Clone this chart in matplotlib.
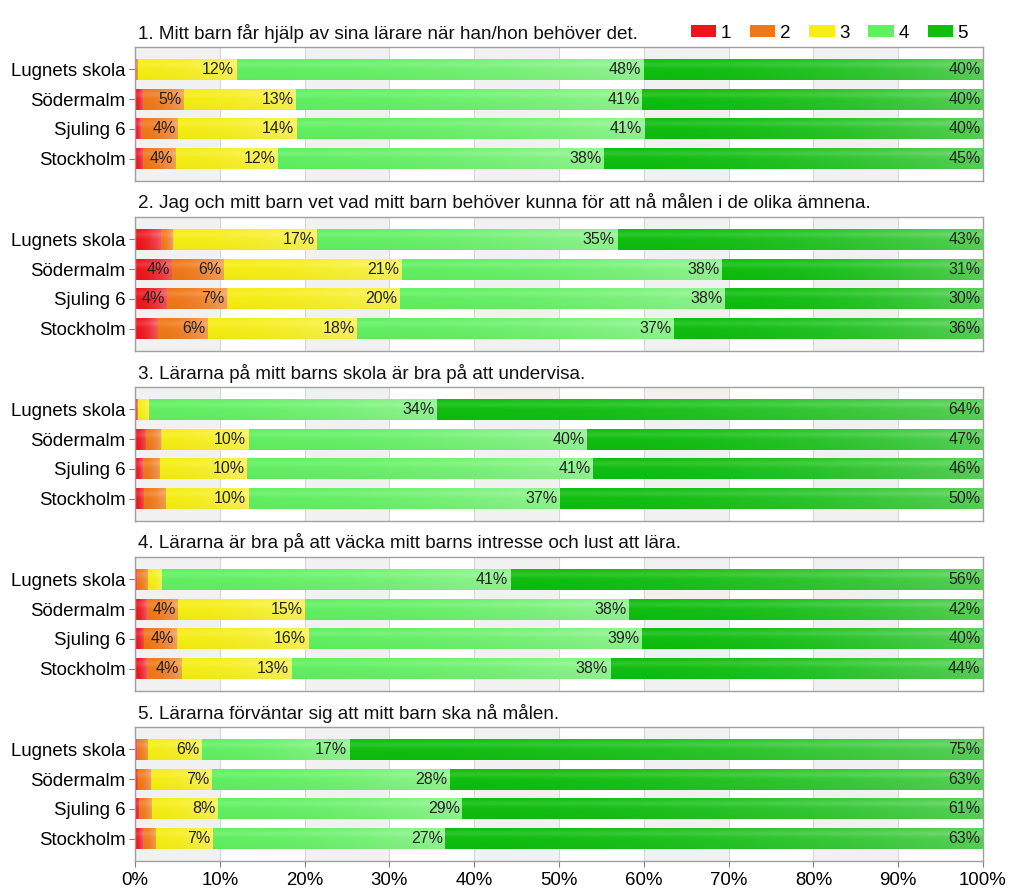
import numpy as np
import matplotlib
matplotlib.use('Agg')
import matplotlib.pyplot as plt
import matplotlib.patches as mpatches
from matplotlib.colors import to_rgb

plt.rcParams['font.family'] = ['Liberation Sans', 'DejaVu Sans']

# ---------------- data ----------------
schools = ['Lugnets skola', 'Södermalm', 'Sjuling 6', 'Stockholm']
levels = ['1', '2', '3', '4', '5']
questions = [
    '1. Mitt barn får hjälp av sina lärare när han/hon behöver det.',
    '2. Jag och mitt barn vet vad mitt barn behöver kunna för att nå målen i de olika ämnena.',
    '3. Lärarna på mitt barns skola är bra på att undervisa.',
    '4. Lärarna är bra på att väcka mitt barns intresse och lust att lära.',
    '5. Lärarna förväntar sig att mitt barn ska nå målen.',
]
# rows: schools, columns: answer levels 1..5 (percent)
q1 = [[0.0, 0.3, 11.7, 48.0, 40.0],
      [0.9, 4.9, 13.2, 40.8, 40.2],
      [0.7, 4.4, 14.0, 41.0, 39.9],
      [1.0, 3.8, 12.1, 38.4, 44.7]]
q2 = [[3.1, 1.4, 17.0, 35.4, 43.1],
      [4.4, 6.1, 21.0, 37.7, 30.8],
      [3.8, 7.0, 20.4, 38.4, 30.4],
      [2.7, 5.9, 17.6, 37.4, 36.4]]
q3 = [[0.2, 0.1, 1.3, 34.0, 64.4],
      [1.3, 1.8, 10.3, 39.9, 46.7],
      [0.9, 2.1, 10.2, 40.8, 46.0],
      [1.1, 2.6, 9.7, 36.7, 49.9]]
q4 = [[0.2, 1.3, 1.7, 41.1, 55.7],
      [1.4, 3.7, 15.0, 38.2, 41.7],
      [1.1, 3.8, 15.6, 39.3, 40.2],
      [1.4, 4.1, 13.0, 37.6, 43.9]]
q5 = [[0.2, 1.3, 6.4, 17.4, 74.7],
      [0.3, 1.6, 7.2, 28.0, 62.9],
      [0.5, 1.5, 7.8, 28.8, 61.4],
      [0.9, 1.6, 6.7, 27.4, 63.4]]
all_data = [q1, q2, q3, q4, q5]
xticks = list(range(0, 101, 10))
xticklabels = [f'{t}%' for t in xticks]

colors = ['#ee141c', '#f07818', '#f6ee14', '#62f062', '#0fbe0f']

LABEL_MIN = 3.5


def grad_img(color, n=80, m=24):
    base = np.array(to_rgb(color))
    x = np.linspace(0, 1, n)[None, :]
    t = np.linspace(0, 1, m)[:, None]   # 0 bottom -> 1 top
    w = 0.0 + 0.30 * x ** 1.8
    gloss = 0.12 * np.exp(-((t - 0.75) / 0.15) ** 2)
    f = np.clip(w + gloss, 0, 0.8)
    img = base[None, None, :] * (1 - f[..., None]) + f[..., None]
    shade = 0.03 * (1 - t) ** 2
    img = img * (1 - shade[..., None])
    return np.clip(img, 0, 1)


W, H = 1024, 896
fig = plt.figure(figsize=(W / 100, H / 100), dpi=100)
left = 135 / W
width = (983 - 135) / W
ax_h = 134
ypos = np.arange(len(schools))[::-1]

for i, (title, data) in enumerate(zip(questions, all_data)):
    top = 47 + 170 * i
    ax = fig.add_axes([left, 1 - (top + ax_h) / H, width, ax_h / H])
    arr = np.array(data)
    # background bands
    for k in range(0, 10, 2):
        ax.axvspan(k * 10, k * 10 + 10, color='#f1f1f1', zorder=0, lw=0)
    ax.set_xticks(xticks)
    ax.grid(axis='x', color='#d6d6d6', lw=0.8, zorder=0.5)
    ax.set_axisbelow(True)

    lefts = np.zeros(len(schools))
    for j in range(len(levels)):
        vals = arr[:, j]
        bars = ax.barh(ypos, vals, left=lefts, height=0.7, color=colors[j],
                       lw=0, zorder=2)
        img = grad_img(colors[j])
        for p, v in zip(bars.patches, vals):
            if v <= 0:
                continue
            x0, y0 = p.get_x(), p.get_y()
            x1, y1 = x0 + p.get_width(), y0 + p.get_height()
            ax.imshow(img, extent=[x0, x1, y0, y1], origin='lower',
                      aspect='auto', interpolation='bilinear', zorder=2.5)
            if v >= LABEL_MIN:
                ax.text(x1 - 0.3, y0 + p.get_height() / 2, f'{v:.0f}%',
                        ha='right', va='center', fontsize=11.5,
                        color='#222222', zorder=4)
        lefts = lefts + vals

    ax.set_xlim(0, 100)
    ax.set_ylim(-0.75, len(schools) - 0.25)
    ax.set_yticks(ypos)
    ax.set_yticklabels(schools, fontsize=13.4)
    ax.tick_params(axis='y', length=4, color='#808080', pad=3)
    for s in ax.spines.values():
        s.set_color('#a0a0a0')
        s.set_linewidth(1.0)
    if i == len(questions) - 1:
        ax.set_xticklabels(xticklabels, fontsize=13.4)
        ax.tick_params(axis='x', length=4, color='#808080', pad=4)
    else:
        ax.tick_params(axis='x', length=0, labelbottom=False)

    ax.annotate(title, xy=(0, 1), xycoords='axes fraction', xytext=(3, 14),
                textcoords='offset pixels', ha='left', va='center',
                fontsize=13.6, color='#111111')

    if i == 0:
        handles = [mpatches.Patch(facecolor=c, edgecolor='none') for c in colors]
        fig.legend(handles, levels, loc='center right',
                   bbox_to_anchor=(968 / W, 1 - 33 / H), ncol=5, frameon=False,
                   fontsize=13.5, handlelength=1.35, handleheight=0.55,
                   handletextpad=0.25, columnspacing=1.0, borderpad=0,
                   borderaxespad=0)

fig.savefig('out.png', dpi=100)
